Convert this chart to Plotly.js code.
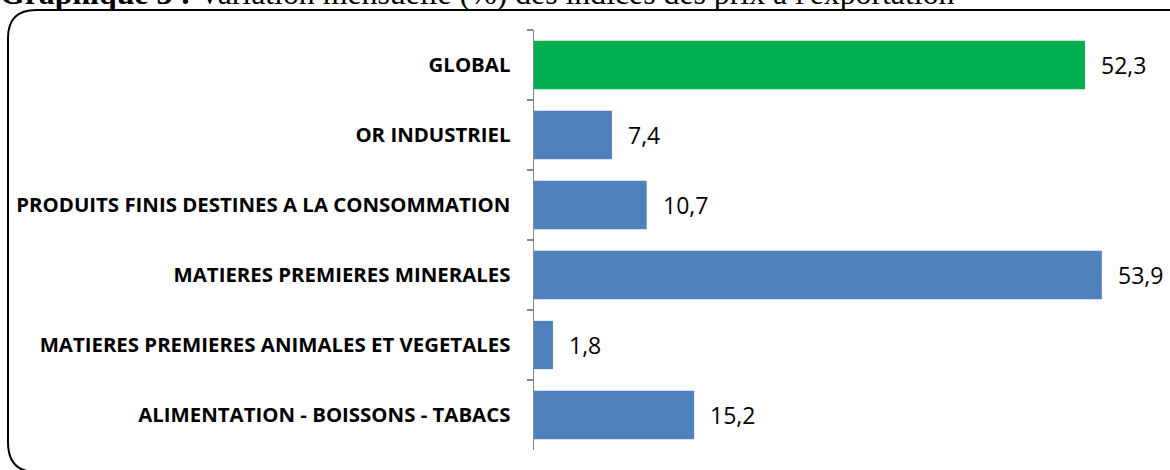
<!DOCTYPE html>
<html>
<head>
<meta charset="utf-8">
<script src="https://cdn.plot.ly/plotly-3.0.1.min.js"></script>
<style>html,body{margin:0;padding:0;background:#fff;}#chart{width:1170px;height:470px;}</style>
</head>
<body>
<div id="chart"></div>
<script>
const categories = [
  "GLOBAL",
  "OR INDUSTRIEL",
  "PRODUITS FINIS DESTINES A LA CONSOMMATION",
  "MATIERES PREMIERES MINERALES",
  "MATIERES PREMIERES ANIMALES ET VEGETALES",
  "ALIMENTATION - BOISSONS - TABACS"
];
const values = [52.3, 7.4, 10.7, 53.9, 1.8, 15.2];
const valueLabels = ["52,3", "7,4", "10,7", "53,9", "1,8", "15,2"];
const barColors = ["#00B050", "#4F81BD", "#4F81BD", "#4F81BD", "#4F81BD", "#4F81BD"];
const titleText = "<b>Graphique 3 :</b> Variation mensuelle (%) des indices des prix à l'exportation";

const W = 1170, H = 470;
const mL = 534, mR = 36, mT = 30, mB = 20;
const pw = W - mL - mR, ph = H - mT - mB;
const px = x => (x - mL) / pw;
const py = y => (H - mB - y) / ph;

const border = `M ${px(1200)},${py(10)} L ${px(36)},${py(10)} Q ${px(8)},${py(10)} ${px(8)},${py(38)} L ${px(8)},${py(442)} Q ${px(8)},${py(472)} ${px(36)},${py(472)} L ${px(1200)},${py(472)}`;

const trace = {
  type: "bar",
  orientation: "h",
  y: categories,
  x: values,
  marker: {color: barColors},
  width: 0.69,
  hoverinfo: "none"
};

const annotations = categories.map((c, i) => ({
  x: values[i], y: c, xref: "x", yref: "y",
  text: valueLabels[i], showarrow: false,
  xanchor: "left", yanchor: "middle", xshift: 14,
  font: {family: "'Open Sans', sans-serif", size: 23, color: "#000"}
}));
annotations.push({
  xref: "paper", yref: "paper", x: px(-2), y: py(13),
  xanchor: "left", yanchor: "bottom", showarrow: false,
  text: titleText,
  font: {family: "'Liberation Serif', 'Times New Roman', serif", size: 31.8, color: "#000"}
});

const layout = {
  width: W, height: H,
  margin: {l: mL, r: mR, t: mT, b: mB, pad: 0},
  paper_bgcolor: "#fff", plot_bgcolor: "#fff",
  showlegend: false,
  xaxis: {range: [0, pw / 10.535], visible: false, fixedrange: true},
  yaxis: {
    type: "category", autorange: "reversed",
    showline: true, linecolor: "#888", linewidth: 1.5,
    ticks: "outside", tickson: "boundaries", ticklen: 6, tickcolor: "#888", tickwidth: 1.5,
    ticklabelstandoff: 18,
    showgrid: false, zeroline: false,
    tickfont: {family: "'Open Sans', sans-serif", size: 20.4, color: "#000", weight: "bold"}
  },
  annotations: annotations,
  shapes: [{type: "path", xref: "paper", yref: "paper", path: border, line: {color: "#000", width: 2}}]
};

Plotly.newPlot("chart", [trace], layout, {staticPlot: true, displayModeBar: false});
</script>
</body>
</html>
